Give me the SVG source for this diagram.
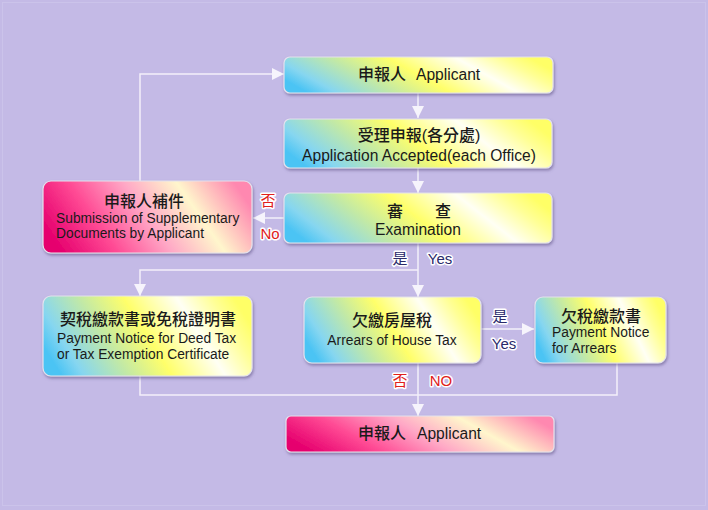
<svg xmlns="http://www.w3.org/2000/svg" width="708" height="510" viewBox="0 0 708 510">
<defs>
<style>
.zh{font-family:"Liberation Sans","Noto Sans CJK TC",sans-serif;font-size:16px;fill:#1a1a1a;font-weight:500}
.en{font-family:"Liberation Sans","Noto Sans CJK TC",sans-serif;font-size:15.6px;fill:#1a1a1a}
.sm{font-family:"Liberation Sans","Noto Sans CJK TC",sans-serif;font-size:13.8px;fill:#1a1a1a}
.mid{text-anchor:middle}
.lbl{font-family:"Liberation Sans","Noto Sans CJK TC",sans-serif;font-size:15px;text-anchor:middle;stroke:#ffffff;stroke-width:3;paint-order:stroke;stroke-linejoin:round}
.no{fill:#e0201c}
.yes{fill:#2a2a6a}
.box{stroke:#e4e2ee;stroke-width:1.2;filter:url(#sh)}
.blue{fill:url(#gb)}
.pink{fill:url(#gp)}
.con{fill:none;stroke:#f3f0fa;stroke-width:1.5}
.arr{marker-end:url(#ah)}
</style>
<linearGradient id="gb" x1="0" y1="0.62" x2="1" y2="0.38">
<stop offset="0" stop-color="#4cc4f4"/>
<stop offset="0.1" stop-color="#86d6f0"/>
<stop offset="0.3" stop-color="#c2e9a6"/>
<stop offset="0.5" stop-color="#ffff6a"/>
<stop offset="0.74" stop-color="#fffff4"/>
<stop offset="0.9" stop-color="#ffff96"/>
<stop offset="1" stop-color="#ffff66"/>
</linearGradient>
<linearGradient id="gp" x1="0" y1="0.62" x2="1" y2="0.38">
<stop offset="0" stop-color="#e6006e"/>
<stop offset="0.25" stop-color="#ff4a94"/>
<stop offset="0.5" stop-color="#ffa8c6"/>
<stop offset="0.74" stop-color="#fff6cc"/>
<stop offset="1" stop-color="#ff88b0"/>
</linearGradient>
<filter id="sh" x="-10%" y="-20%" width="120%" height="150%">
<feDropShadow dx="1" dy="2" stdDeviation="1.5" flood-color="#5a4c80" flood-opacity="0.55"/>
</filter>
<marker id="ah" viewBox="0 0 12 12" markerUnits="userSpaceOnUse" markerWidth="12" markerHeight="12" refX="12" refY="6" orient="auto">
<path d="M0,0 L12,6 L0,12 z" fill="#f6f4fc"/>
</marker>
</defs>
<rect width="708" height="510" fill="#c4bae6"/>
<rect x="2.5" y="2.5" width="703" height="503" fill="none" stroke="#cbc3ea" stroke-width="1"/>

<g id="connectors">
<line class="con arr" x1="418" y1="93" x2="418" y2="118"/>
<line class="con arr" x1="418" y1="168" x2="418" y2="193"/>
<line class="con arr" x1="284" y1="218" x2="253" y2="218"/>
<polyline class="con arr" points="140,181 140,74 284,74"/>
<line class="con arr" x1="418" y1="243" x2="418" y2="297"/>
<polyline class="con arr" points="418,270 140,270 140,296"/>
<line class="con arr" x1="481" y1="329" x2="534" y2="329"/>
<line class="con arr" x1="418" y1="363" x2="418" y2="416"/>
<polyline class="con" points="140,376 140,395 418,395"/>
<polyline class="con" points="617,363 617,395 418,395"/>
<text class="lbl no" x="268" y="206">否</text>
<text class="lbl no" x="270" y="239">No</text>
<text class="lbl yes" x="400" y="264">是</text>
<text class="lbl yes" x="440" y="264">Yes</text>
<text class="lbl yes" x="500" y="322">是</text>
<text class="lbl yes" x="504" y="349">Yes</text>
<text class="lbl no" x="400" y="386">否</text>
<text class="lbl no" x="441" y="386">NO</text>
</g>

<g id="n-applicant">
<rect class="box blue" x="284" y="57" width="269" height="36" rx="6"/>
<text class="zh" x="358" y="80">申報人</text>
<text class="en" x="416" y="80">Applicant</text>
</g>

<g id="n-accepted">
<rect class="box blue" x="284" y="119" width="268" height="49" rx="6"/>
<text class="zh mid" x="419" y="141">受理申報(各分處)</text>
<text class="en mid" x="419" y="161">Application Accepted(each Office)</text>
</g>

<g id="n-exam">
<rect class="box blue" x="284" y="193" width="268" height="50" rx="6"/>
<text class="zh mid"><tspan x="395" y="217">審</tspan><tspan x="443" y="217">查</tspan></text>
<text class="en mid" x="418" y="235">Examination</text>
</g>

<g id="n-supplement">
<rect class="box pink" x="43" y="181" width="209" height="72" rx="8"/>
<text class="zh mid" x="144" y="207">申報人補件</text>
<text class="sm" x="56" y="223">Submission of Supplementary</text>
<text class="sm" x="56" y="238">Documents by Applicant</text>
</g>

<g id="n-deedtax">
<rect class="box blue" x="43" y="296" width="209" height="80" rx="8"/>
<text class="zh mid" x="148" y="325">契稅繳款書或免稅證明書</text>
<text class="sm" x="57" y="343">Payment Notice for Deed Tax</text>
<text class="sm" x="57" y="359">or Tax Exemption Certificate</text>
</g>

<g id="n-arrears">
<rect class="box blue" x="304" y="297" width="177" height="66" rx="8"/>
<text class="zh mid" x="392" y="326">欠繳房屋稅</text>
<text class="sm mid" x="392" y="345">Arrears of House Tax</text>
</g>

<g id="n-arrearsnotice">
<rect class="box blue" x="535" y="297" width="131" height="66" rx="8"/>
<text class="zh mid" x="601" y="322">欠稅繳款書</text>
<text class="sm" x="552" y="337">Payment Notice</text>
<text class="sm" x="552" y="353">for Arrears</text>
</g>

<g id="n-applicant-end">
<rect class="box pink" x="286" y="416" width="268" height="36" rx="5"/>
<text class="zh" x="358" y="439">申報人</text>
<text class="en" x="417" y="439">Applicant</text>
</g>
</svg>
